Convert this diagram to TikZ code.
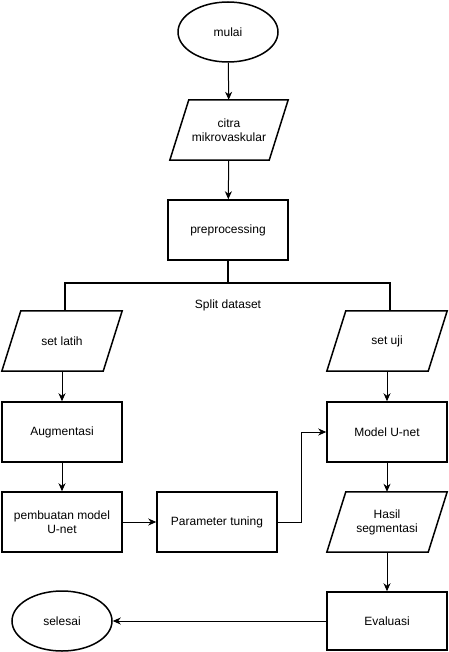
\documentclass[tikz,border=0pt]{standalone}
\usepackage{fontspec}
\setmainfont{Liberation Sans}
\usetikzlibrary{shapes.geometric,arrows.meta}
\tikzset{
  base/.style={inner sep=0pt, align=center, font=\fontsize{12}{14}\selectfont},
  procbox/.style={base, draw, line width=1.5pt, minimum width=120pt, minimum height=60pt},
  termbox/.style={base, draw, ellipse, line width=1.5pt, minimum width=100pt, minimum height=60pt},
  iobox/.style={base, minimum width=120pt, minimum height=60pt},
  ioborder/.style={line width=1.5pt, line join=miter},
  link/.style={line width=1pt},
  splitline/.style={line width=1.6pt},
  flow/.style={link, -{Stealth[length=8pt,width=7pt,inset=2.5pt]}}
}
% parallelogram outline around a named node
\newcommand{\ioshape}[1]{%
  \draw[ioborder] ([xshift=19pt]#1.north west) -- (#1.north east)
    -- ([xshift=-19pt]#1.south east) -- (#1.south west) -- cycle;}
\begin{document}
\begin{tikzpicture}[x=1pt,y=-1pt]
\useasboundingbox (0,0) rectangle (448,652);

\node[termbox] (mulai) at (228,32) {mulai};
\node[iobox, minimum width=118pt] (citra) at (229,130) {citra\\mikrovaskular};
\ioshape{citra}
\node[procbox] (pre) at (228,230) {preprocessing};

\node[iobox] (latih) at (62,341) {set latih};
\ioshape{latih}
\node[iobox] (uji) at (387,341) {set uji};
\ioshape{uji}

\node[procbox] (aug) at (62,432) {Augmentasi};
\node[procbox] (buat) at (62,522) {pembuatan model\\U-net};
\node[procbox] (tune) at (217,522) {Parameter tuning};
\node[procbox] (model) at (387,432) {Model U-net};
\node[iobox] (hasil) at (387,522) {Hasil\\segmentasi};
\ioshape{hasil}
\node[procbox, minimum height=58pt] (eval) at (387,621) {Evaluasi};
\node[termbox] (selesai) at (62,621) {selesai};

% split of the dataset
\coordinate (split) at (228,283);
\coordinate (splitL) at (65,283);
\coordinate (splitR) at (390,283);
\node[base] (splitlabel) at (228,305) {Split dataset};

\draw[flow] (mulai) -- (citra);
\draw[flow] (citra) -- (pre);
\draw[splitline] (pre.south) -- (split);
\draw[splitline, line cap=rect] (splitL) -- (splitR);
\draw[splitline] (splitL) -- (splitL |- latih.north);
\draw[splitline] (splitR) -- (splitR |- uji.north);

\draw[flow] (latih) -- (aug);
\draw[flow] (aug) -- (buat);
\draw[flow] (buat) -- (tune);
\draw[flow] (tune.east) -- ++(24,0) |- (model.west);
\draw[flow] (uji) -- (model);
\draw[flow] (model) -- (hasil);
\draw[flow] (hasil) -- (eval);
\draw[flow] (eval) -- (selesai);
\end{tikzpicture}
\end{document}
